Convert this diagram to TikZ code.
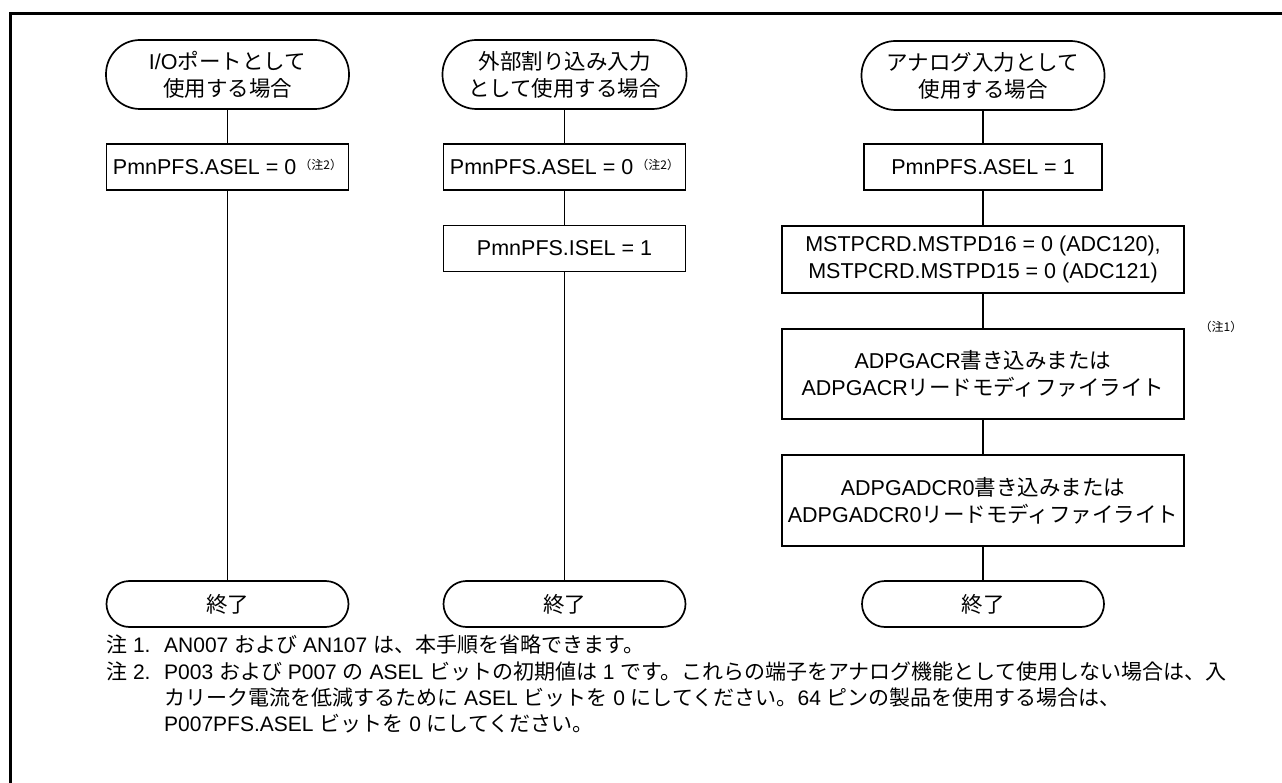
\documentclass[tikz,border=0pt]{standalone}
\usepackage{fontspec}
\setmainfont{Liberation Sans}
\newfontfamily\jpfont{Noto Sans CJK JP}
\newcommand\J[1]{{\jpfont #1}}
\newcommand\notemark[1]{\raisebox{5pt}{\fontsize{12}{13}\selectfont\jpfont （注#1）}}
\tikzset{
  boxtext/.style={align=center, inner sep=0pt, font=\fontsize{21.5}{27}\selectfont},
  startterm/.style={boxtext, draw, line width=1.7pt, rounded corners=34pt, minimum height=69pt},
  endterm/.style={boxtext, draw, line width=1.7pt, rounded corners=23pt, minimum height=46pt, minimum width=242pt},
  procbox/.style={boxtext, draw, line width=1.7pt},
  conn/.style={line width=1.5pt},
  notetext/.style={anchor=base west, inner sep=0pt, font=\fontsize{21}{27}\selectfont}
}
\begin{document}
\begin{tikzpicture}[x=1pt,y=-1pt]
\useasboundingbox (0,0) rectangle (1282,783);
% outer frame
\draw[line width=3pt] (10.5,800) -- (10.5,13.5) -- (1300,13.5);

% column 1
\node[startterm, minimum width=243pt] (s1) at (227.5,74.5) {I/O\J{ポートとして}\\\J{使用する場合}};
\node[procbox, minimum width=242pt, minimum height=46pt] (a1) at (227.5,167) {PmnPFS.ASEL = 0\hspace{3pt}\notemark{2}};
\node[endterm] (e1) at (227.5,604) {\J{終了}};
\draw[conn] (s1) -- (a1);
\draw[conn] (a1) -- (e1);

% column 2
\node[startterm, minimum width=244pt] (s2) at (564.5,74.5) {\J{外部割り込み入力}\\\J{として使用する場合}};
\node[procbox, minimum width=242pt, minimum height=46pt] (b1) at (564.5,167) {PmnPFS.ASEL = 0\hspace{3pt}\notemark{2}};
\node[procbox, minimum width=242pt, minimum height=46pt] (b2) at (564.5,248.5) {PmnPFS.ISEL = 1};
\node[endterm] (e2) at (564.5,604) {\J{終了}};
\draw[conn] (s2) -- (b1);
\draw[conn] (b1) -- (b2);
\draw[conn] (b2) -- (e2);

% column 3
\node[startterm, minimum width=243pt] (s3) at (983,75.5) {\J{アナログ入力として}\\\J{使用する場合}};
\node[procbox, minimum width=238pt, minimum height=46pt] (c1) at (983,167) {PmnPFS.ASEL = 1};
\node[procbox, minimum width=402pt, minimum height=67pt] (c2) at (983,259.5) {MSTPCRD.MSTPD16 = 0 (ADC120),\\MSTPCRD.MSTPD15 = 0 (ADC121)};
\node[procbox, minimum width=402pt, minimum height=90pt] (c3) at (983,374) {ADPGACR\J{書き込みまたは}\\ADPGACR\J{リードモディファイライト}};
\node[procbox, minimum width=402pt, minimum height=91pt] (c4) at (983,500.5) {ADPGADCR0\J{書き込みまたは}\\ADPGADCR0\J{リードモディファイライト}};
\node[endterm] (e3) at (983,604) {\J{終了}};
\node[inner sep=0pt, font=\fontsize{12}{13}\selectfont\jpfont] (n1) at (1221,327) {（注1）};
\draw[conn] (s3) -- (c1);
\draw[conn] (c1) -- (c2);
\draw[conn] (c2) -- (c3);
\draw[conn] (c3) -- (c4);
\draw[conn] (c4) -- (e3);

% notes
\node[notetext] (l1) at (106,652) {\J{注} 1.};
\node[notetext] (t1) at (164,652) {AN007 \J{および} AN107 \J{は、本手順を省略できます。}};
\node[notetext] (l2) at (106,679) {\J{注} 2.};
\node[notetext] (t2) at (164,679) {\hbox to 1062pt{P003 \J{および} P007 \J{の} ASEL \J{ビットの初期値は} 1 \J{です。これらの端子をアナログ機能として使用しない場合は、入}}};
\node[notetext] (t3) at (164,705) {\J{カリーク電流を低減するために} ASEL \J{ビットを} 0 \J{にしてください。}64 \J{ピンの製品を使用する場合は、}};
\node[notetext] (t4) at (164,731) {P007PFS.ASEL \J{ビットを} 0 \J{にしてください。}};
\end{tikzpicture}
\end{document}
